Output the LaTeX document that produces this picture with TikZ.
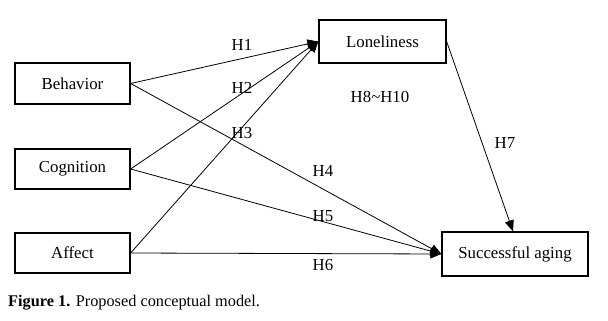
\documentclass[tikz,border=0pt]{standalone}
\usepackage{fontspec}
\setmainfont{Liberation Serif}
\usetikzlibrary{arrows.meta}
\begin{document}
\begin{tikzpicture}[x=1pt,y=-1pt,
  box/.style={draw,line width=1.3pt,rectangle,inner sep=0pt,font=\fontsize{16.8}{18}\selectfont},
  link/.style={line width=0.8pt,-{Triangle[length=11pt,width=9pt]}},
  hlab/.style={font=\fontsize{16.8}{18}\selectfont,inner sep=0pt}]
\useasboundingbox (0,0) rectangle (608,321);
\node[box,minimum width=115pt,minimum height=41pt] (beh) at (72.5,83.5) {\raisebox{-1pt}{Behavior}};
\node[box,minimum width=115pt,minimum height=40pt] (cog) at (72.5,169) {\raisebox{-1pt}{Cognition}};
\node[box,minimum width=115pt,minimum height=40pt] (aff) at (72.5,253) {\raisebox{-1pt}{Affect}};
\node[box,minimum width=127pt,minimum height=43pt] (lon) at (382.5,41.5) {\raisebox{-1pt}{Loneliness}};
\node[box,minimum width=146pt,minimum height=44pt] (suc) at (515,254) {\raisebox{-1pt}{Successful aging}};
\draw[link] (beh.east) -- (lon.west);
\draw[link] (cog.east) -- (lon.west);
\draw[link] (aff.east) -- (lon.west);
\draw[link] (beh.east) -- (suc.west);
\draw[link] (cog.east) -- (suc.west);
\draw[link] (aff.east) -- (suc.west);
\draw[link] (lon.east) -- ([xshift=-2pt]suc.north);
\node[hlab] (h1) at (242,45) {H1};
\node[hlab] (h2) at (242,88) {H2};
\node[hlab] (h3) at (242,133) {H3};
\node[hlab] (h4) at (323,171) {H4};
\node[hlab] (h5) at (323,216) {H5};
\node[hlab] (h6) at (323,265) {H6};
\node[hlab] (h7) at (505,143) {H7};
\node[hlab] (h810) at (380,97) {H8\textasciitilde H10};
\node[anchor=west,inner sep=0pt,font=\fontsize{16.3}{18}\selectfont] (cap) at (8,303) {\textbf{Figure 1.} Proposed conceptual model.};
\end{tikzpicture}
\end{document}
